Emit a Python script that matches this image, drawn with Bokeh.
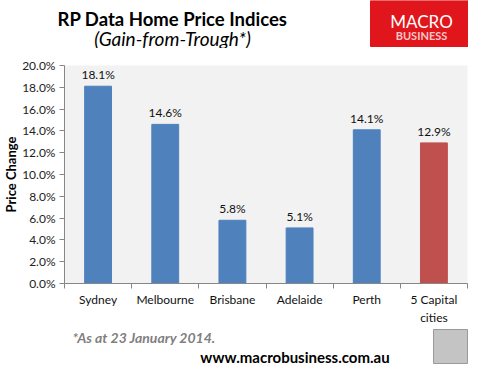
from bokeh.plotting import figure
from bokeh.layouts import column
from bokeh.models import (ColumnDataSource, Range1d, LinearAxis,
                          FixedTicker, NumeralTickFormatter, Label)
from bokeh.core.properties import value
from bokeh.embed import file_html
from bokeh.resources import INLINE

# ---- data ----
cities = ["Sydney", "Melbourne", "Brisbane", "Adelaide", "Perth", "5 Capital cities"]
gain = [0.181, 0.146, 0.058, 0.051, 0.141, 0.129]
y_ticks = [0.0, 0.02, 0.04, 0.06, 0.08, 0.10, 0.12, 0.14, 0.16, 0.18, 0.20]

title_text = "RP Data Home Price Indices"
subtitle_text = "(Gain-from-Trough*)"
note_text = "*As at 23 January 2014."
site_text = "www.macrobusiness.com.au"

BLUE = "#4f81bd"
RED = "#c0504d"
FONT = "Lato"
W = 468

n = len(cities)
slot = [i + 0.5 for i in range(n)]          # category slot centres
colors = [BLUE] * (n - 1) + [RED]
labels = [f"{v * 100:.1f}%" for v in gain]
src = ColumnDataSource(dict(x=slot, city=cities, gain=gain, color=colors, label=labels))


def blank(h):
    f = figure(width=W, height=h, x_range=Range1d(0, W), y_range=Range1d(0, h),
               output_backend="svg", toolbar_location=None,
               x_axis_location=None, y_axis_location=None, frame_align=False,
               min_border=0, min_border_left=0, min_border_right=0,
               min_border_top=0, min_border_bottom=0)
    f.outline_line_color = None
    f.xgrid.visible = False
    f.ygrid.visible = False
    f.background_fill_color = "white"
    f.border_fill_color = "white"
    return f


def lab(f, x, y, text, size, style="normal", color="black", align="center"):
    f.add_layout(Label(x=x, y=y, x_units="screen", y_units="screen", text=text,
                       text_font=FONT, text_font_size=size, text_font_style=style,
                       text_color=color, text_align=align, text_baseline="alphabetic"))


# ---------- header ----------
top = blank(48)
lab(top, 172, 30, title_text, "18.5px", "bold")
lab(top, 172, 10, subtitle_text, "19px", "italic")
top.quad(left=[370], right=[468], bottom=[2], top=[48], color="#e0161c")
lab(top, 421, 27, "MACRO", "17px", "normal", "white")
lab(top, 421, 13, "BUSINESS", "11px", "bold", "#f8c8c8")

# ---------- chart ----------
p = figure(frame_width=403, frame_height=218, x_range=Range1d(0, n),
           y_range=Range1d(0, 0.20), output_backend="svg", toolbar_location=None,
           x_axis_location=None, y_axis_location=None, frame_align=False,
           min_border_left=58, min_border_right=7, min_border_top=17, min_border_bottom=36)
p.background_fill_color = "#f2f2f2"
p.border_fill_color = None
p.outline_line_color = None
p.xgrid.visible = False
p.ygrid.visible = False

yax = LinearAxis(ticker=FixedTicker(ticks=y_ticks), formatter=NumeralTickFormatter(format="0.0%"))
yax.axis_label = "Price Change"
yax.axis_label_text_font = FONT
yax.axis_label_text_font_style = "bold"
yax.axis_label_text_font_size = "13px"
yax.axis_label_text_color = "black"
yax.axis_label_standoff = 0
yax.major_label_text_font = FONT
yax.major_label_text_font_size = "12px"
yax.major_label_text_color = "#222222"
yax.major_label_standoff = 4
yax.major_tick_in = 0
yax.major_tick_out = 5
yax.minor_tick_line_color = None
yax.axis_line_color = "#868686"
yax.major_tick_line_color = "#868686"
p.add_layout(yax, "left")

# category axis: labels at slot centres, tick marks at slot boundaries (minor ticks)
xax = LinearAxis(ticker=FixedTicker(ticks=slot, minor_ticks=list(range(n + 1))))
xax.axis_line_color = "#868686"
xax.major_tick_line_color = None
xax.major_tick_out = 0
xax.major_tick_in = 0
xax.minor_tick_line_color = "#868686"
xax.minor_tick_out = 5
xax.minor_tick_in = 0
xax.major_label_standoff = 3
xax.major_label_text_font = FONT
xax.major_label_text_font_size = "12px"
xax.major_label_text_color = "#111111"
xax.major_label_overrides = {s: c.replace("5 Capital ", "5 Capital\n") for s, c in zip(slot, cities)}
p.add_layout(xax, "below")

p.vbar(x="x", top="gain", width=0.4, color="color", source=src)
p.text(x="x", y="gain", text="label", source=src, y_offset=-4,
       text_align="center", text_baseline="bottom", text_font=value(FONT),
       text_font_size="12px", text_color="#111111")

# ---------- footer ----------
bot = blank(37)
lab(bot, 72, 27, note_text, "14px", "bold italic", "#7f7f7f", "left")
lab(bot, 294.5, 8, site_text, "15px", "bold")
bot.quad(left=[433], right=[467], bottom=[1], top=[35], fill_color="#c4c4c4", line_color="#9a9a9a")

layout = column(top, p, bot, spacing=0)
open("out.html", "w").write(file_html(layout, INLINE))
